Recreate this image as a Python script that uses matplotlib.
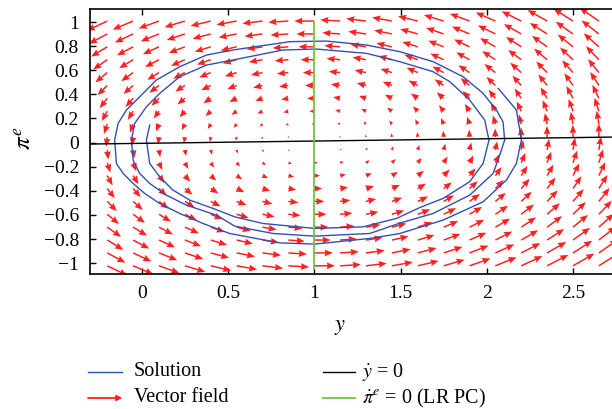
import numpy as np
import matplotlib.pyplot as plt
from matplotlib.lines import Line2D
from matplotlib.ticker import FuncFormatter

plt.rcParams['font.family'] = ['Liberation Serif', 'DejaVu Serif']
plt.rcParams['mathtext.fontset'] = 'stix'

# solution curve (y, pi^e), spiralling outwards
sol_y = [0.046, 0.027, 0.046, 0.104, 0.181, 0.278, 0.413, 0.539, 0.703, 1.003,
         1.283, 1.477, 1.612, 1.747, 1.901, 1.979, 2.013, 1.988, 1.901, 1.786,
         1.689, 1.496, 1.303, 1.013, 0.819, 0.529, 0.375, 0.220, 0.104, 0.027,
         -0.041, -0.060, -0.050, -0.012, 0.046, 0.143, 0.259, 0.433, 0.539, 0.761,
         1.003, 1.322, 1.496, 1.689, 1.901, 2.037, 2.075, 2.104, 2.094, 2.056,
         1.979, 1.863, 1.689, 1.496, 1.303, 1.071, 0.858, 0.529, 0.375, 0.220,
         0.085, -0.012, -0.089, -0.137, -0.157, -0.147, -0.108, -0.050, 0.017, 0.104,
         0.220, 0.355, 0.510, 0.800, 1.003, 1.322, 1.496, 1.747, 1.979, 2.114,
         2.172, 2.201, 2.172, 2.066]
sol_pi = [0.145, 0.021, -0.173, -0.284, -0.394, -0.477, -0.546, -0.616, -0.671, -0.712,
          -0.699, -0.629, -0.539, -0.463, -0.325, -0.173, 0.021, 0.187, 0.353, 0.505,
          0.588, 0.671, 0.740, 0.776, 0.768, 0.685, 0.643, 0.546, 0.408, 0.297,
          0.159, 0.021, -0.145, -0.256, -0.339, -0.436, -0.519, -0.602, -0.693, -0.754,
          -0.776, -0.754, -0.668, -0.588, -0.436, -0.256, -0.104, 0.021, 0.173, 0.270,
          0.408, 0.546, 0.671, 0.754, 0.809, 0.842, 0.837, 0.768, 0.726, 0.629,
          0.519, 0.380, 0.270, 0.159, 0.021, -0.173, -0.256, -0.339, -0.422, -0.505,
          -0.588, -0.671, -0.754, -0.832, -0.842, -0.795, -0.754, -0.643, -0.491, -0.311,
          -0.173, 0.021, 0.270, 0.450]

# nullclines
ydot_y = [-0.3, 2.8]
ydot_pi = [-0.012, 0.047]
pidot_y = [1.0, 1.0]
pidot_pi = [-1.05, 1.0]

# linear vector field around the steady state (1, 0)
field_a = 1.0     # d(ydot)/d(pi)
field_b = 0.019   # d(ydot)/d(y)
field_c = 0.58    # d(pidot)/d(y)
pi_star = 0.013
grid_y = np.linspace(-0.2, 2.65, 20)
grid_pi = np.linspace(-1.022, 1.008, 20)

Y, P = np.meshgrid(grid_y, grid_pi)
U = field_b * (Y - 1) - field_a * (P - pi_star)
V = field_c * (Y - 1)

fig = plt.figure(figsize=(6.12, 4.09), dpi=100)
W, H = 612, 409
ax = fig.add_axes([90 / W, 1 - 274 / H, 534.75 / W, 265 / H])

ax.quiver(Y, P, U, V, color='#ff2020', angles='xy', scale_units='xy', scale=8.6,
          units='dots', width=1.5, headwidth=4.5, headlength=5.5, headaxislength=5,
          zorder=2)
ax.plot(sol_y, sol_pi, color='#3350b0', lw=1.0, zorder=3)
ax.plot(ydot_y, ydot_pi, color='black', lw=1.0, zorder=3)
ax.plot(pidot_y, pidot_pi, color='#6cc83c', lw=1.3, zorder=4)

ax.set_xlim(-0.3, 2.8)
ax.set_ylim(-1.09, 1.108)
ax.set_xticks([0, 0.5, 1, 1.5, 2, 2.5])
ax.set_yticks(np.arange(-1, 1.01, 0.2))
fmt = FuncFormatter(lambda v, p: ('%g' % (round(v, 2) + 0.0)).replace('-', '\u2212'))
ax.xaxis.set_major_formatter(fmt)
ax.yaxis.set_major_formatter(fmt)
ax.tick_params(direction='in', top=True, right=True, length=4, width=1,
               labelsize=14, pad=8)
for s in ax.spines.values():
    s.set_linewidth(1.2)

ax.set_xlabel(r'$y$', fontsize=16)
ax.xaxis.set_label_coords(0.4675, -0.166)
ax.set_ylabel(r'$\pi^{e}$', fontsize=18)
ax.yaxis.set_label_coords(-0.100, 0.513)

# legend drawn below the axes
def fy(py):
    return 1 - py / H

fig.add_artist(Line2D([88 / W, 122 / W], [fy(372), fy(372)], color='#3350b0', lw=1.0))
fig.text(134 / W, fy(372), 'Solution', fontsize=14.5, va='center')
fig.add_artist(plt.annotate('', xy=(122, H - 398), xytext=(88, H - 398),
                            xycoords='figure pixels', textcoords='figure pixels',
                            arrowprops=dict(arrowstyle='-|>', color='#ff2020', lw=1.0,
                                            mutation_scale=8, shrinkA=0, shrinkB=0)))
fig.text(134 / W, fy(398), 'Vector field', fontsize=14.5, va='center')
fig.add_artist(Line2D([323 / W, 355 / W], [fy(372), fy(372)], color='black', lw=1.0))
fig.text(362 / W, fy(372), r'$\dot{y}$ = 0', fontsize=14.5, va='center')
fig.add_artist(Line2D([323 / W, 355 / W], [fy(398), fy(398)], color='#6cc83c', lw=1.3))
fig.text(362 / W, fy(398), r'$\dot{\pi}^{e}$ = 0 (LR PC)', fontsize=14.5, va='center')

fig.savefig('out.png', dpi=100)
